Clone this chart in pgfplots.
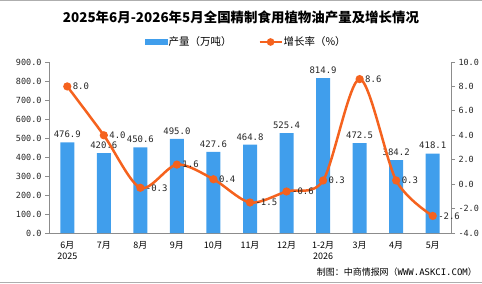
\documentclass[border=0pt]{standalone}
\usepackage{pgfplots}
\pgfplotsset{compat=1.18}
\usepackage{fontspec}
\setmainfont{Noto Sans CJK SC}
\newfontfamily\numfont{DejaVu Sans Mono}
\definecolor{barblue}{RGB}{64,158,236}
\definecolor{lineorange}{RGB}{245,98,30}
\definecolor{axgray}{RGB}{140,140,140}
\pgfplotstableread{
x prod growth
0 476.9 8.0
1 420.6 4.0
2 450.6 -0.3
3 495.0 1.6
4 427.6 0.4
5 464.8 -1.5
6 525.4 -0.6
7 814.9 0.3
8 472.5 8.6
9 384.2 0.3
10 418.1 -2.6
}\datatable
\begin{document}
\begin{tikzpicture}
\path[use as bounding box] (0,0) rectangle (482bp,284bp);
\draw[axgray!70, line width=1bp] (0,283.5bp) -- (482bp,283.5bp);
\draw[axgray!70, line width=1bp] (0,1.5bp) -- (482bp,1.5bp);
\node[font=\bfseries\fontsize{13.5}{15}\selectfont] at (241bp,267bp) {2025年6月-2026年5月全国精制食用植物油产量及增长情况};
\node[anchor=east, font=\fontsize{9}{10}\selectfont, inner sep=0pt] at (477bp,12bp) {制图：中商情报网（\numfont WWW.ASKCI.COM\rmfamily）};
\begin{axis}[
  at={(49bp,51bp)}, anchor=south west,
  scale only axis, width=402bp, height=171bp,
  xmin=-0.5, xmax=10.5, ymin=0, ymax=900,
  axis y line*=left, axis x line*=bottom,
  axis line style={axgray, line width=0.8pt},
  xtick={0,...,10},
  xticklabels={{6月\\2025},7月,8月,9月,10月,11月,12月,{1-2月\\2026},3月,4月,5月},
  xticklabel style={align=center, font=\fontsize{9}{11}\selectfont, text=black, yshift=-1bp},
  major x tick style={draw=none},
  extra x ticks={-0.5,0.5,...,10.5},
  extra x tick labels={},
  extra x tick style={tick style={axgray, line width=0.8pt}, major tick length=4bp, tick align=outside},
  ytick={0,100,...,900},
  /pgf/number format/fixed, /pgf/number format/fixed zerofill, /pgf/number format/precision=1, /pgf/number format/assume math mode=true,
  yticklabel style={font=\numfont\fontsize{8.5}{10}\selectfont, text=black!85},
  y tick style={axgray, line width=0.8pt}, major tick length=4bp, tick align=outside,
]
\addplot[ybar, bar width=14bp, fill=barblue, draw=none,
  nodes near coords={\pgfmathprintnumber[fixed,fixed zerofill,precision=1,assume math mode=true]{\pgfplotspointmeta}},
  every node near coord/.append style={font=\numfont\fontsize{9}{10}\selectfont, text=black!85, yshift=1bp}]
  table[x=x, y=prod] {\datatable};
\end{axis}
\begin{axis}[
  at={(49bp,51bp)}, anchor=south west,
  scale only axis, width=402bp, height=171bp,
  xmin=-0.5, xmax=10.5, ymin=-4, ymax=10,
  axis y line*=right, axis x line=none,
  axis line style={axgray, line width=0.8pt},
  ytick={-4,-2,...,10},
  /pgf/number format/fixed, /pgf/number format/fixed zerofill, /pgf/number format/precision=1, /pgf/number format/assume math mode=true,
  yticklabel style={font=\numfont\fontsize{8.5}{10}\selectfont, text=black!85},
  y tick style={axgray, line width=0.8pt}, major tick length=4bp, tick align=outside,
  legend columns=2,
  legend style={at={(0.49,1.117)}, anchor=center, draw=none, fill=none,
    font=\fontsize{10.5}{11}\selectfont, column sep=0bp,
    /tikz/every even column/.append style={column sep=26bp},
    nodes={inner xsep=1bp}},
]
\addlegendimage{legend image code/.code={\fill[barblue] (-4bp,-2.5bp) rectangle (18bp,2.5bp);}}
\addlegendentry{产量（万吨）}
\addplot[lineorange, line width=2.5bp, smooth, tension=0.5, mark=*, mark size=2.8bp,
  mark options={fill=lineorange, draw=lineorange},
  nodes near coords={\pgfmathprintnumber[fixed,fixed zerofill,precision=1,assume math mode=true]{\pgfplotspointmeta}},
  every node near coord/.append style={font=\numfont\fontsize{9}{10}\selectfont, text=black!85, anchor=west, xshift=1bp, yshift=0bp},
  legend image code/.code={\draw[lineorange, line width=2.2bp] (-4bp,0bp) -- (18bp,0bp); \fill[lineorange] (7bp,0bp) circle (2.5bp);}]
  table[x=x, y=growth] {\datatable};
\addlegendentry{增长率（\%）}
\end{axis}
\end{tikzpicture}
\end{document}
